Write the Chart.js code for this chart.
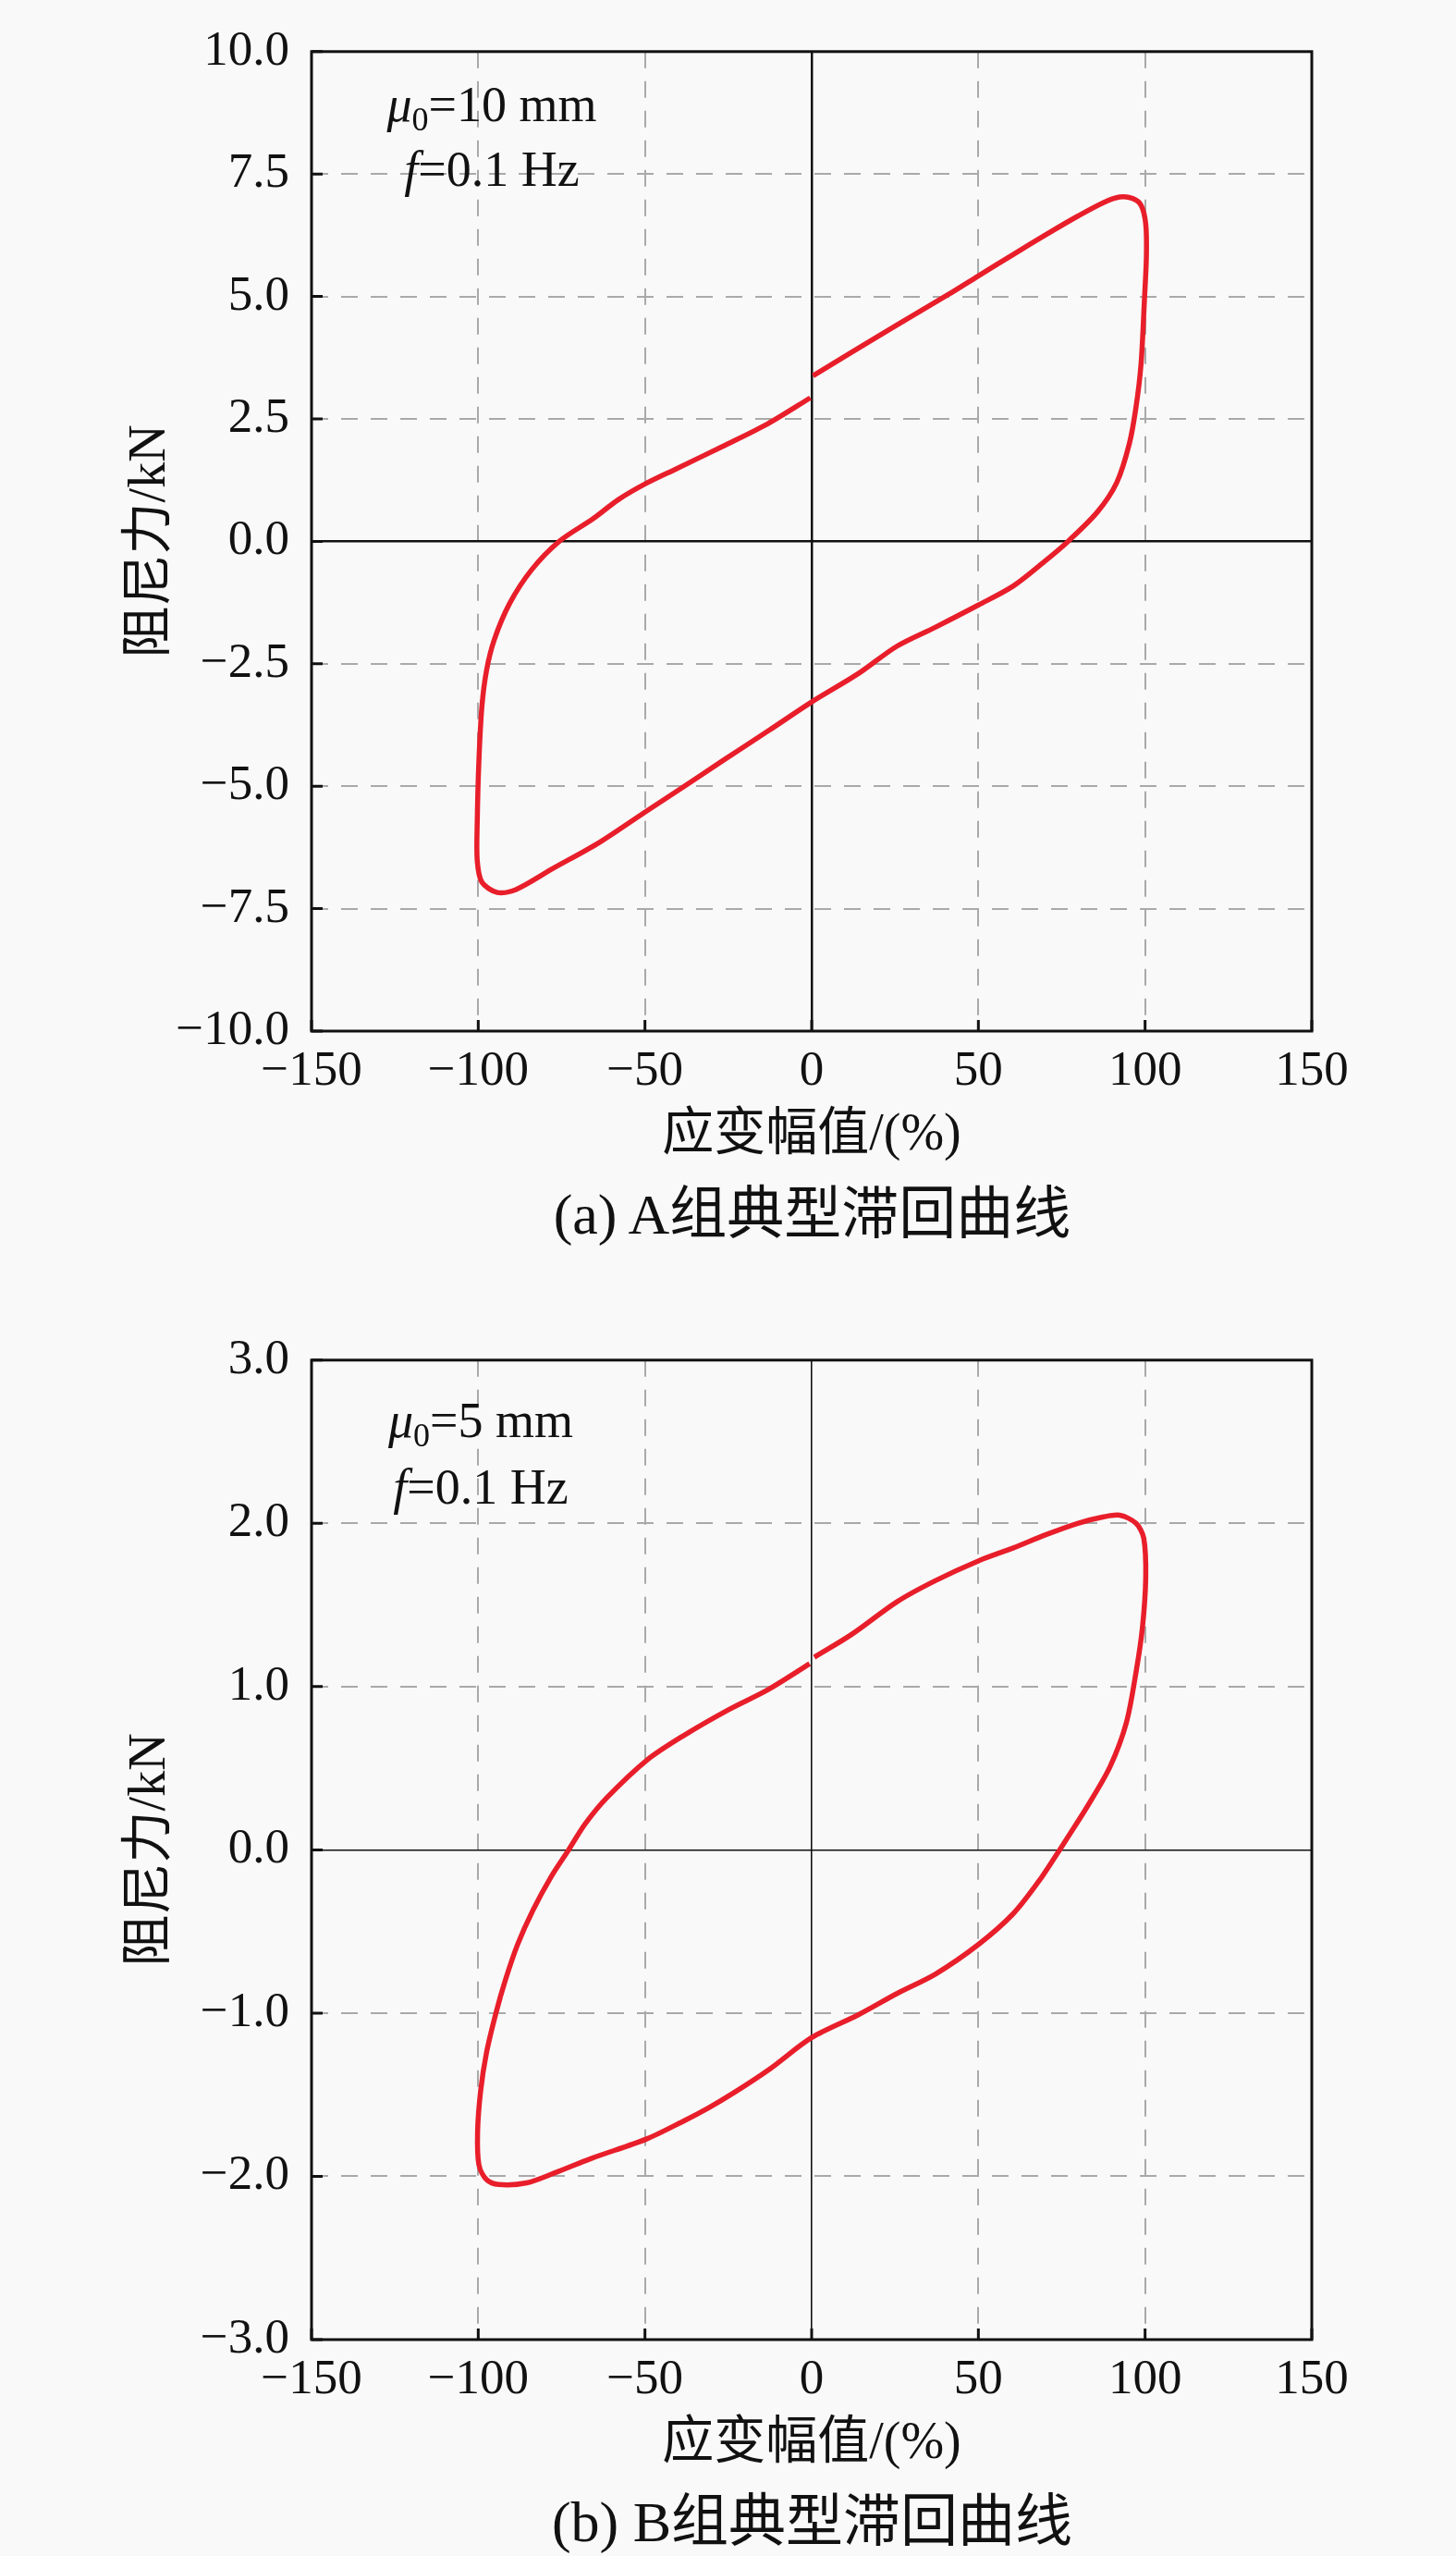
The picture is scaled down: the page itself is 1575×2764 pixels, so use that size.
<!DOCTYPE html>
<html>
<head>
<meta charset="utf-8">
<script src="https://cdn.jsdelivr.net/npm/chart.js@4.4.1/dist/chart.umd.min.js"></script>
<style>
  html, body { margin: 0; padding: 0; background: #f9f9f9; }
  body { width: 1575px; height: 2764px; position: relative; overflow: hidden;
         font-family: 'Liberation Serif', 'Noto Sans CJK SC', serif; color: #111; }
  canvas { position: absolute; left: 0; }
  .note { position: absolute; width: 400px; text-align: center; font-size: 54px; white-space: nowrap; }
  .note sub { font-size: 36px; vertical-align: -10px; line-height: 0; }
  .caption { position: absolute; left: 337px; width: 1083px; text-align: center;
             font-size: 62px; line-height: 62px; white-space: nowrap; }
</style>
</head>
<body>
<canvas id="chartA" width="1575" height="1280" style="top:0"></canvas>
<canvas id="chartB" width="1575" height="1280" style="top:1415px"></canvas>

<div class="note" style="left:332px; top:78px; line-height:70px">
  <i>μ</i><sub>0</sub>=10 mm<br><i>f</i>=0.1 Hz
</div>
<div class="note" style="left:320px; top:1500px; line-height:72px">
  <i>μ</i><sub>0</sub>=5 mm<br><i>f</i>=0.1 Hz
</div>
<div class="caption" style="top:1282px">(a) A组典型滞回曲线</div>
<div class="caption" style="top:2696px">(b) B组典型滞回曲线</div>

<script>
// tick values
const xTicks = [-150, -100, -50, 0, 50, 100, 150];
const yTicksA = [-10, -7.5, -5, -2.5, 0, 2.5, 5, 7.5, 10];
const yTicksB = [-3, -2, -1, 0, 1, 2, 3];

// group A loop: strain amplitude (%) / damping force (kN)
const loopAX = [0.4, 12, 25.6, 41, 50, 60.5, 70.2, 79.8, 87.6, 92.4, 96.3, 98.8, 100.2, 100.4, 99.8,
  98.8, 97.3, 95.3, 91.5, 85.7, 76.9, 70.2, 60.5, 50, 37.2, 25.6, 14, 0, -12.8, -26.7, -38.4, -50,
  -63.7, -77.6, -88.7, -94.3, -98.9, -100.3, -100.3, -99.8, -98.9, -97.5, -95.2, -90.6, -84.1,
  -75.7, -65.6, -58, -50, -40.3, -26.7, -13.2, -0.4];
const loopAY = [3.38, 3.86, 4.42, 5.04, 5.42, 5.86, 6.26, 6.64, 6.92, 7.03, 7.0, 6.86, 6.48, 5.83, 4.92,
  3.63, 2.75, 2.0, 1.2, 0.6, 0, -0.39, -0.91, -1.30, -1.75, -2.14, -2.70, -3.28, -3.86, -4.48, -5.01, -5.53,
  -6.15, -6.68, -7.11, -7.17, -6.96, -6.52, -5.72, -4.48, -3.37, -2.63, -2.01, -1.27, -0.59,
  0, 0.46, 0.85, 1.17, 1.49, 1.94, 2.40, 2.93];

// group B loop
const loopBX = [0.8, 12, 25.6, 37.2, 50, 60.5, 70.2, 79.8, 87.6, 92.4, 97.3, 99.6, 100.2, 99.2, 97.3,
  94.4, 89.5, 82.8, 76.9, 73.1, 68.2, 60.5, 50, 37.2, 25.6, 14, 0, -12.4, -23.5, -30.9, -38.3, -49.4,
  -66.1, -77.2, -85.5, -93.8, -97.5, -99.8, -100.2, -99.3, -97.5, -94.7, -91.9, -88.2, -83.6, -78,
  -72.9, -67.9, -61.4, -49.4, -38.4, -24.8, -13.2, -0.6];
const loopBY = [1.18, 1.32, 1.52, 1.65, 1.77, 1.85, 1.93, 2.0, 2.04, 2.05, 2.0, 1.91, 1.67, 1.36, 1.09,
  0.78, 0.51, 0.27, 0.08, -0.04, -0.19, -0.39, -0.58, -0.76, -0.88, -1.01, -1.15, -1.34, -1.49, -1.58,
  -1.66, -1.77, -1.89, -1.98, -2.04, -2.05, -2.02, -1.93, -1.73, -1.48, -1.24, -1.0, -0.80, -0.58,
  -0.37, -0.16, 0, 0.16, 0.32, 0.55, 0.70, 0.86, 0.98, 1.14];

Chart.defaults.font.family = "'Liberation Serif', 'Noto Sans CJK SC', serif";
Chart.defaults.color = '#111';

const minus = v => (v < 0 ? '\u2212' : '') + Math.abs(v);

// box round the plot and inward tick marks
const frame = {
    id: 'frame',
    afterDatasetsDraw(chart) {
        const { ctx, chartArea: a, scales: { x, y } } = chart;
        ctx.save();
        ctx.strokeStyle = '#111';
        ctx.lineWidth = 3;
        ctx.beginPath();
        x.ticks.forEach(t => {
            const px = x.getPixelForValue(t.value);
            ctx.moveTo(px, a.bottom);
            ctx.lineTo(px, a.bottom - 12);
        });
        y.ticks.forEach(t => {
            const py = y.getPixelForValue(t.value);
            ctx.moveTo(a.left, py);
            ctx.lineTo(a.left + 12, py);
        });
        ctx.stroke();
        ctx.strokeRect(a.left, a.top, a.width, a.height);
        ctx.restore();
    }
};

function makeChart(id, xs, ys, yTicks, decimals, zeroWidth) {
    const gridColor = c => (c.tick && c.tick.value === 0) ? '#111' : '#a9a9a9';
    const gridWidth = c => (c.tick && c.tick.value === 0) ? zeroWidth : 2;
    const gridDash = c => (c.tick && c.tick.value === 0) ? [] : [18, 14];

    return new Chart(document.getElementById(id), {
        type: 'scatter',
        data: {
            datasets: [{
                data: xs.map((v, i) => ({ x: v, y: ys[i] })),
                showLine: true,
                borderColor: 'rgb(232,30,42)',
                borderWidth: 5.5,
                pointRadius: 0,
                tension: 0.3,
                fill: false
            }]
        },
        options: {
            responsive: false,
            devicePixelRatio: 1,
            animation: false,
            layout: { padding: { left: 0, right: 156, top: 37, bottom: 0 } },
            plugins: { legend: { display: false }, tooltip: { enabled: false } },
            scales: {
                x: {
                    type: 'linear',
                    min: xTicks[0],
                    max: xTicks[xTicks.length - 1],
                    afterBuildTicks: s => { s.ticks = xTicks.map(v => ({ value: v })); },
                    afterFit: s => { s.height = 165; },
                    grid: { color: gridColor, lineWidth: gridWidth, drawTicks: false },
                    border: { display: false, dash: gridDash },
                    ticks: {
                        autoSkip: false,
                        maxRotation: 0,
                        padding: 12,
                        font: { size: 53 },
                        callback: v => minus(v)
                    },
                    title: {
                        display: true,
                        text: '应变幅值/(%)',
                        font: { size: 56 },
                        padding: { top: 0, bottom: 18 }
                    }
                },
                y: {
                    type: 'linear',
                    min: yTicks[0],
                    max: yTicks[yTicks.length - 1],
                    afterBuildTicks: s => { s.ticks = yTicks.map(v => ({ value: v })); },
                    afterFit: s => { s.width = 337; },
                    grid: { color: gridColor, lineWidth: gridWidth, drawTicks: false },
                    border: { display: false, dash: gridDash },
                    ticks: {
                        autoSkip: false,
                        padding: 24,
                        font: { size: 53 },
                        callback: v => (v < 0 ? '\u2212' : '') + Math.abs(v).toFixed(decimals)
                    },
                    title: {
                        display: true,
                        text: '阻尼力/kN',
                        font: { size: 56 },
                        padding: { top: 130, bottom: 0 }
                    }
                }
            }
        },
        plugins: [frame]
    });
}

makeChart('chartA', loopAX, loopAY, yTicksA, 1, 2.5);
makeChart('chartB', loopBX, loopBY, yTicksB, 1, 1.6);
</script>
</body>
</html>
